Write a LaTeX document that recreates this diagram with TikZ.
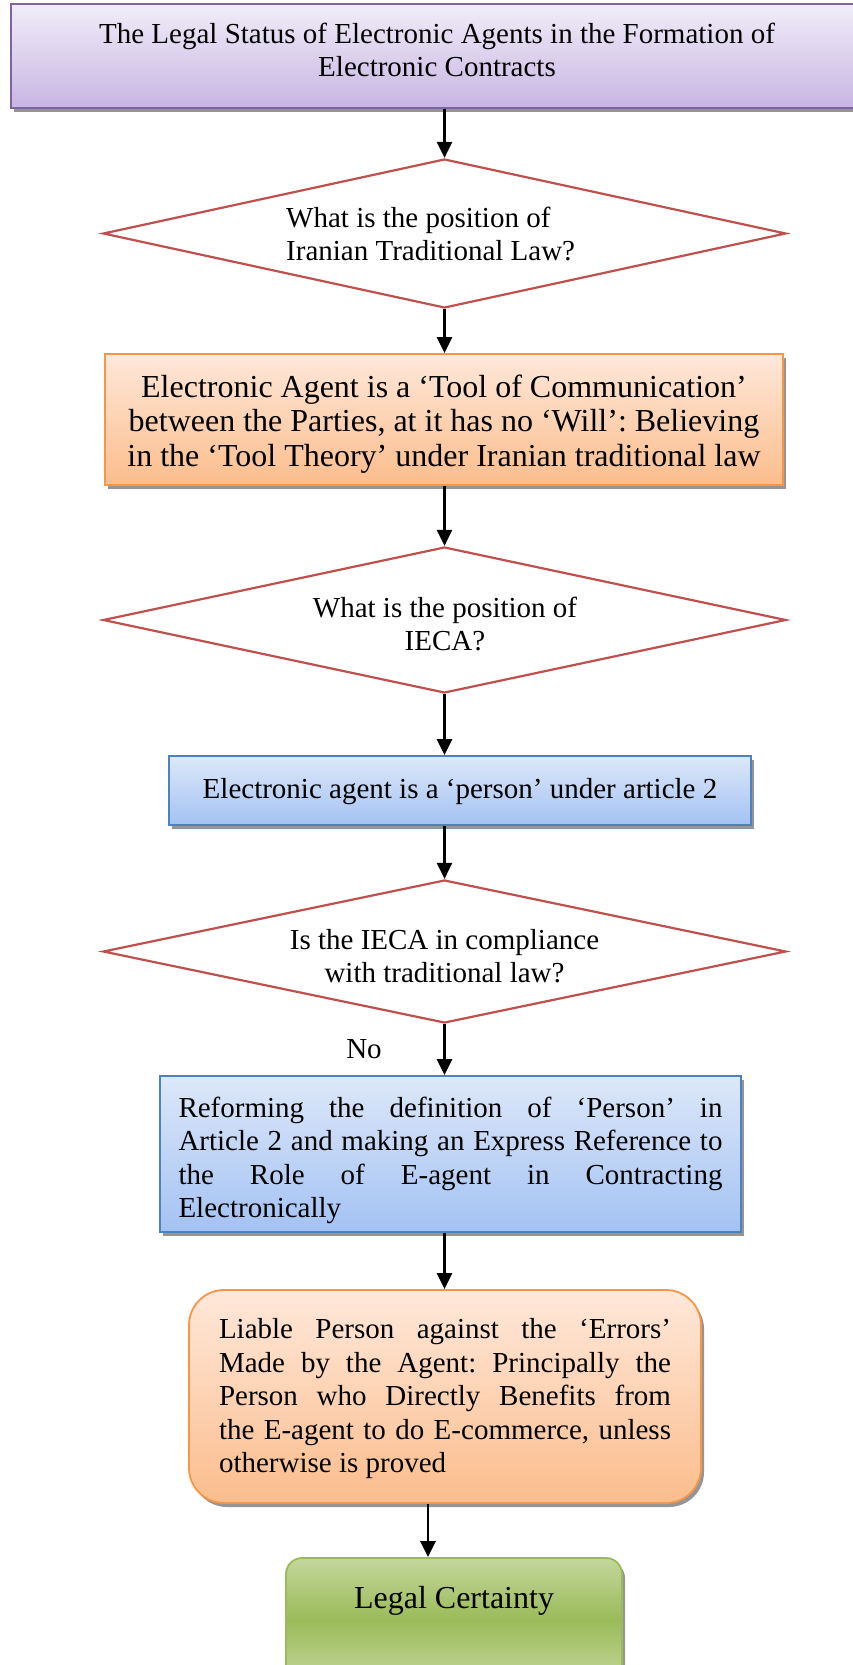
\documentclass[tikz,border=0pt]{standalone}
\usepackage{fontspec}
\setmainfont{Liberation Serif}
\usetikzlibrary{shapes.geometric,arrows.meta,shadows}

\tolerance=10000
\hbadness=10000
\hyphenpenalty=10000
\exhyphenpenalty=10000
\frenchspacing

\definecolor{titleTop}{HTML}{F1EDF9}
\definecolor{titleBot}{HTML}{C8B5E2}
\definecolor{titleLine}{HTML}{8064A2}
\definecolor{orTop}{HTML}{FFE8DA}
\definecolor{orBot}{HTML}{FBBD8C}
\definecolor{orLine}{HTML}{F79646}
\definecolor{blTop}{HTML}{DDE8F9}
\definecolor{blBot}{HTML}{A3C2F3}
\definecolor{blLine}{HTML}{4F81BD}
\definecolor{grLight}{HTML}{C3D79C}
\definecolor{grMid}{HTML}{9BBB59}
\definecolor{grLine}{HTML}{9BBB59}
\definecolor{decLine}{HTML}{C0504D}
\definecolor{shadowGray}{HTML}{959595}

\newcommand\fsnormal{\fontsize{29pt}{33.5pt}\selectfont\frenchspacing}
\newcommand\fslarge{\fontsize{32pt}{34.5pt}\selectfont\frenchspacing}

\tikzset{
  box/.style={rectangle, line width=1.8pt, inner sep=0pt,
    general shadow={fill=shadowGray, shadow xshift=3pt, shadow yshift=-4pt}},
  titlebox/.style={box, draw=titleLine, top color=titleTop, bottom color=titleBot},
  orangebox/.style={box, draw=orLine, top color=orTop, bottom color=orBot},
  bluebox/.style={box, draw=blLine, top color=blTop, bottom color=blBot},
  greenbox/.style={box, draw=grLine, top color=grLight, bottom color=grLight,
    middle color=grMid, rounded corners=16pt},
  decision/.style={diamond, draw=decLine, line width=2.2pt, fill=white,
    inner sep=0pt, minimum width=683pt},
  txt/.style={inner sep=0pt, font=\fsnormal},
  arr/.style={-{Triangle[width=15pt,length=16pt]}, line width=2.7pt, black}
}

\begin{document}
\begin{tikzpicture}[x=1pt, y=-1pt]
\useasboundingbox (0,0) rectangle (853,1665);

% title
\node[titlebox, minimum width=845pt, minimum height=104pt] (title) at (433.5,56) {};
\node[txt, align=center] (titletext) at (437,50)
  {The Legal Status of Electronic Agents in the Formation of\\Electronic Contracts};

% first question
\node[decision, minimum height=149pt] (q1) at (444.5,233.5) {};
\node[txt, align=left, anchor=west] (q1text) at (286,234)
  {What is the position of\\Iranian Traditional Law?};

% tool theory
\node[orangebox, minimum width=678pt, minimum height=131pt] (tool) at (444,419.5) {};
\node[inner sep=0pt, font=\fslarge, align=center] (tooltext) at (444,424)
  {Electronic Agent is a ‘Tool of Communication’\\
   between the Parties, at it has no ‘Will’: Believing\\
   in the ‘Tool Theory’ under Iranian traditional law};

% second question
\node[decision, minimum height=146pt] (q2) at (444.5,620) {};
\node[txt, align=center] (q2text) at (445,624) {What is the position of\\IECA?};

% person under article 2
\node[bluebox, minimum width=582pt, minimum height=69pt] (person) at (460,790.5) {};
\node[txt] (persontext) at (460,791.5) {Electronic agent is a ‘person’ under article 2};

% third question
\node[decision, minimum height=143pt] (q3) at (444.5,951.5) {};
\node[txt, align=center] (q3text) at (444.5,956)
  {Is the IECA in compliance\\with traditional law?};
\node[txt] (no) at (364,1049) {No};

% reform proposal
\node[bluebox, minimum width=581pt, minimum height=156pt] (reform) at (450.5,1154) {};
\node[txt, text width=544pt, align=justify] (reformtext) at (450.5,1160.5)
  {Reforming the definition of ‘Person’ in\linebreak
   Article 2 and making an Express Reference to\linebreak
   the Role of E-agent in Contracting\linebreak
   Electronically};

% liability
\node[orangebox, rounded corners=35pt, minimum width=512pt, minimum height=213pt]
  (liable) at (445,1396.5) {};
\node[txt, text width=452pt, align=justify] (liabletext) at (445,1399)
  {Liable Person against the ‘Errors’\linebreak
   Made by the Agent: Principally the\linebreak
   Person who Directly Benefits from\linebreak
   the E-agent to do E-commerce, unless\linebreak
   otherwise is proved};

% outcome
\node[greenbox, minimum width=336pt, minimum height=124pt] (cert) at (454,1620) {};
\node[inner sep=0pt, font=\fslarge] (certtext) at (454,1601) {Legal Certainty};

% connectors
\draw[arr] (title.south -| q1.north) -- (q1.north);
\draw[arr] (q1.south) -- (tool.north -| q1.south);
\draw[arr] (tool.south -| q2.north) -- (q2.north);
\draw[arr] (q2.south) -- (person.north -| q2.south);
\draw[arr] (person.south -| q3.north) -- (q3.north);
\draw[arr] (q3.south) -- (reform.north -| q3.south);
\draw[arr] (reform.south -| q3.south) -- (liable.north -| q3.south);
\coordinate (lastout) at ([xshift=-17pt]liable.south);
\draw[arr] (lastout) -- (lastout |- cert.north);
\end{tikzpicture}
\end{document}
